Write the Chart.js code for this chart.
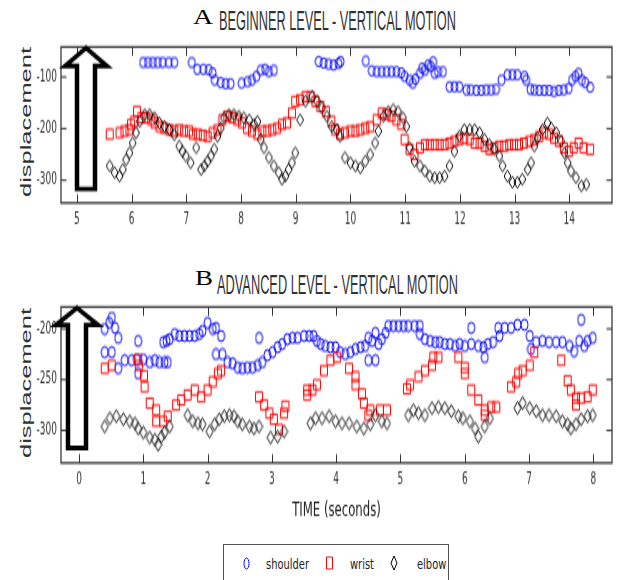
<!DOCTYPE html>
<html><head><meta charset="utf-8">
<script src="https://cdn.jsdelivr.net/npm/chart.js@4.4.1/dist/chart.umd.min.js"></script>
<style>
html,body{margin:0;padding:0;background:#fff;}
#wrap{position:relative;width:617px;height:580px;overflow:hidden;font-family:"DejaVu Sans Condensed","Liberation Sans Narrow","Liberation Sans",sans-serif;}
.tl{position:absolute;white-space:nowrap;line-height:1;transform-origin:left top;}
.L{font-family:"Liberation Serif","DejaVu Serif",serif;font-size:20px;color:#000;}
.T{font-family:"Liberation Sans",Arial,sans-serif;font-size:27px;color:#333;}
.ylab{position:absolute;width:200px;height:20px;line-height:20px;text-align:center;font-family:"Liberation Sans",Arial,sans-serif;font-size:15px;color:#333;white-space:nowrap;}
.ylab span{display:inline-block;}
canvas{position:absolute;left:0;}
#legend{position:absolute;left:223px;top:544px;width:226px;height:50px;border:1px solid #555;box-sizing:border-box;}
.li{position:absolute;font-size:11px;color:#222;line-height:12px;top:557px;transform:scaleY(1.35);transform-origin:left top;white-space:nowrap;}
</style></head>
<body>
<div id="wrap">
  <div class="tl L" data-sx="1.39" style="left:193px;top:6.5px;">A</div>
  <div class="tl T" data-w="237" style="left:219px;top:7.5px;">BEGINNER LEVEL - VERTICAL MOTION</div>
  <div class="tl L" data-sx="1.35" style="left:195px;top:267.5px;">B</div>
  <div class="tl T" data-w="241" style="left:217px;top:271.5px;">ADVANCED LEVEL - VERTICAL MOTION</div>
  <div class="ylab" style="left:-74px;top:112px;"><span data-w="150">displacement</span></div>
  <div class="ylab" style="left:-74px;top:373px;"><span data-w="150">displacement</span></div>
  <canvas id="cA" width="617" height="150" style="top:0;width:617px;height:240px"></canvas>
  <canvas id="cB" width="617" height="175" style="top:260px;width:617px;height:280px"></canvas>
  <div id="legend"></div>
  <canvas id="m1" width="7" height="13" style="left:243px;top:557px"></canvas>
  <div class="li" style="left:266px;">shoulder</div>
  <canvas id="m2" width="9" height="14" style="left:325px;top:556px"></canvas>
  <div class="li" style="left:350px;">wrist</div>
  <canvas id="m3" width="8" height="16" style="left:390px;top:555px"></canvas>
  <div class="li" style="left:417px;">elbow</div>
</div>
<script>
// ---------- DATA ----------
const xTicksA = [5,6,7,8,9,10,11,12,13,14];
const yTicksA = [-100,-200,-300];
const xTicksB = [0,1,2,3,4,5,6,7,8];
const yTicksB = [-200,-250,-300];

// Chart A (beginner)
const shoulderA_t = [6.21,6.30,6.39,6.48,6.57,6.68,6.78, 7.10,7.20,7.31,7.41,7.48,7.52,7.63,7.72,7.81, 8.01,8.12,8.20,8.28,8.36,8.44,8.51,8.60, 9.42,9.51,9.60,9.69,9.78,9.82,
 10.28,10.39,10.48,10.57,10.66,10.75,10.84,10.93,10.99,11.08,11.14,11.19,11.27,11.31,11.36,11.42,11.47,11.51,11.54,11.60,11.69,
 11.81,11.90,11.99,12.12,12.20,12.30,12.39,12.48,12.57,12.66,12.76,12.87,12.96,13.05,13.18,13.21,13.29,13.36,13.45,13.54,13.63,13.72,13.81,13.90,13.99,14.05,14.11,14.17,14.23,14.29,14.38];
const shoulderA_y = [-72,-72,-72,-72,-72,-72,-72, -72,-85,-85,-86,-92,-106,-111,-113,-113, -112,-109,-106,-99,-87,-85,-90,-87, -70,-73,-75,-77,-74,-70,
 -69,-88,-90,-90,-90,-90,-90,-92,-99,-106,-112,-104,-93,-83,-87,-77,-80,-71,-93,-90,-90,
 -119,-119,-119,-125,-125,-126,-126,-125,-125,-124,-106,-96,-96,-96,-99,-106,-124,-125,-126,-126,-126,-128,-126,-125,-122,-106,-99,-93,-106,-111,-120];

const wristA_t = [5.60,5.78,5.87,5.96,5.99,6.05,6.10,6.18,6.27,6.36, 6.42,6.51,6.60,6.69,6.78,6.87,6.96,7.05,7.12,7.21,
 7.30,7.39,7.48,7.57,7.66,7.75,7.84,7.93,8.02,8.11, 8.20,8.30,8.39,8.48,8.57,8.66,8.75,8.84,8.93,8.99,
 9.08,9.18,9.27,9.36,9.45,9.55,9.65,9.72,9.81,9.90, 10.00,10.09,10.18,10.27,10.36,10.48,10.57,10.66,10.75,10.84,
 10.93,10.99,11.08,11.17,11.27,11.36,11.45,11.54,11.63,11.72, 11.81,11.90,11.99,12.08,12.18,12.27,12.36,12.45,12.54,12.63,
 12.72,12.81,12.90,12.99,13.08,13.17,13.27,13.36,13.45,13.54, 13.63,13.72,13.81,13.90,13.99,14.08,14.17,14.26,14.38];
const wristA_y = [-211,-208,-205,-202,-192,-186,-167,-179,-179,-183, -189,-196,-199,-202,-205,-202,-205,-205,-211,-211,
 -213,-215,-208,-202,-183,-176,-179,-183,-189,-199, -205,-211,-205,-205,-202,-199,-192,-189,-170,-147,
 -144,-138,-138,-147,-157,-167,-186,-202,-211,-208, -205,-205,-202,-199,-196,-183,-170,-173,-176,-183,
 -192,-221,-240,-250,-237,-231,-231,-231,-231,-231, -228,-224,-221,-218,-221,-228,-228,-234,-240,-237,
 -234,-234,-231,-231,-231,-228,-224,-221,-215,-208, -211,-218,-224,-237,-244,-237,-228,-237,-240];

const elbowA_t = [5.60,5.69,5.78,5.84,5.90,5.96,6.02,6.08,6.15,6.24, 6.33,6.42,6.51,6.60,6.69,6.78,6.87,6.93,6.99,7.08,
 7.18,7.27,7.33,7.39,7.45,7.51,7.57,7.63,7.69,7.78, 7.87,7.96,8.05,8.15,8.24,8.30,8.36,8.42,8.51,8.60,
 8.69,8.75,8.81,8.87,8.93,8.99,9.08,9.18,9.30,9.39, 9.48,9.57,9.66,9.75,9.81,9.90,10.00,10.09,10.18,10.27,
 10.36,10.45,10.51,10.60,10.69,10.78,10.87,10.96,11.02,11.08, 11.17,11.27,11.36,11.45,11.54,11.63,11.72,11.81,11.90,11.99,
 12.08,12.18,12.27,12.36,12.45,12.54,12.63,12.72,12.78,12.87, 12.96,13.05,13.14,13.24,13.30,13.36,13.42,13.51,13.60,13.67,
 13.76,13.85,13.91,13.97,14.03,14.12,14.22,14.31];
const elbowA_y = [-272,-285,-292,-279,-260,-247,-228,-208,-186,-173, -173,-179,-189,-196,-202,-212,-234,-244,-253,-266,
 -237,-279,-272,-263,-253,-240,-215,-199,-179,-173, -173,-176,-179,-183,-192,-186,-221,-237,-256,-272,
 -285,-298,-292,-279,-266,-247,-183,-147,-138,-147, -160,-176,-196,-202,-215,-256,-266,-272,-276,-263,
 -250,-228,-205,-176,-167,-163,-167,-179,-196,-237, -263,-272,-282,-292,-295,-295,-292,-272,-244,-215,
 -202,-202,-202,-208,-221,-231,-240,-253,-272,-292, -304,-304,-298,-279,-266,-234,-218,-202,-189,-199,
 -208,-224,-247,-266,-282,-295,-311,-308];

// Chart B (advanced)
const shoulderB_t = [0.40,0.47,0.51,0.56,0.61, 0.40,0.51,0.61,0.71,0.82, 0.90,0.92,0.92,1.00,1.10,1.18,1.25,1.33,1.38,
 1.31,1.36,1.41,1.49,1.56,1.64,1.72,1.80,1.87,1.92,2.00,2.08,2.13,2.21,
 2.13,2.23,2.31,2.39,2.47,2.54,2.62,2.70,2.78,2.80,2.85,2.93,3.01,3.09,3.16,3.24,3.32,3.40,
 3.50,3.58,3.65,3.70,3.76,3.83,3.91,3.99,4.06,4.14, 4.22,4.30,4.38,4.45,4.50,4.56,4.61,4.50,4.61,4.66,
 4.71,4.77,4.81,4.89,4.97,5.05,5.12,5.22,5.30,5.30, 5.38,5.46,5.54,5.61,5.69,5.77,5.85,5.92,6.00,6.10,
 6.10,6.21,6.29,6.31,6.36,6.44,6.52,6.54,6.62,6.72, 6.82,6.93,7.01,7.03,7.11,7.21,7.31,7.42,7.52,7.63,
 7.70,7.78,7.81,7.86,7.91,7.99];
const shoulderB_y = [-200,-194,-189,-199,-209, -223,-223,-239,-231,-231, -230,-212,-244,-230,-233,-231,-233,-233,-233,
 -213,-212,-210,-205,-207,-207,-207,-207,-205,-202,-194,-200,-199,-207,
 -225,-225,-233,-234,-238,-239,-238,-238,-236,-209,-233,-226,-223,-218,-215,-210,-209,-209,
 -207,-207,-207,-212,-215,-217,-218,-218,-223,-225, -223,-220,-218,-217,-209,-212,-204,-231,-231,-215,
 -210,-204,-197,-197,-197,-197,-197,-197,-197,-205, -210,-212,-213,-213,-215,-215,-217,-215,-217,-199,
 -215,-217,-218,-228,-215,-213,-199,-207,-199,-199, -196,-196,-207,-220,-213,-212,-213,-213,-213,-217,
 -222,-212,-191,-217,-212,-209];

const wristB_t = [0.40,0.51,0.92,0.93,1.01,1.02,1.10,1.20,1.20,1.31, 1.38,1.51,1.59,1.69,1.80,1.90,2.00,2.08,2.16,2.21,
 2.80,2.88,2.96,3.03,3.11,3.19,3.21, 3.55,3.55,3.63,
 3.70,3.81,3.91,4.01,4.20,4.30,4.30,4.40,4.43,4.50, 4.53,4.68,4.79,5.10,5.15,5.28,5.38,5.49,5.51,5.59,
 5.90,6.00,6.00,6.10,6.21,6.31,6.31,6.41,6.49,6.72, 6.80,6.83,6.90,7.01,7.08,7.50,7.60,7.65,7.73,7.73,
 7.81,7.91,7.99];
const wristB_y = [-239,-236,-230,-236,-246,-257,-273,-280,-291,-291, -286,-275,-270,-265,-260,-267,-260,-252,-244,-241,
 -267,-275,-283,-289,-299,-283,-276, -260,-265,-260,
 -255,-241,-231,-228,-239,-247,-255,-264,-273,-285, -280,-280,-280,-259,-255,-247,-241,-236,-228,-228,
 -228,-238,-244,-260,-270,-280,-285,-277,-277,-257, -252,-244,-241,-236,-223,-231,-251,-260,-268,-275,
 -268,-267,-260];

const elbowB_t = [0.40,0.48,0.58,0.69,0.79,0.87,0.92,1.00,1.10,1.18, 1.23,1.28,1.33,1.41,
 1.69,1.77,1.85,1.92,2.03,2.11, 2.18,2.26,2.34,2.41,2.47,2.54,2.65,2.72,2.80,
 2.98,3.09,3.19, 3.60,3.68,3.78,3.89,3.99,4.09,4.20,4.32, 4.43,4.53,4.61,4.71,4.79,
 5.12,5.20,5.28,5.38,5.49,5.59,5.69,5.79,5.90,5.97, 6.08,6.16,6.21,6.31,6.39,
 6.82,6.90,7.01,7.11,7.21,7.31,7.42,7.52,7.60,7.65, 7.73,7.81,7.91,7.99];
const elbowB_y = [-296,-288,-286,-289,-291,-293,-298,-302,-307,-309, -314,-306,-302,-296,
 -285,-291,-293,-294,-301,-294, -289,-286,-285,-286,-291,-294,-296,-298,-296,
 -307,-306,-301, -293,-288,-288,-286,-291,-293,-293,-296, -298,-294,-285,-291,-293,
 -285,-280,-283,-285,-278,-277,-278,-281,-286,-288, -291,-298,-306,-296,-288,
 -278,-273,-278,-281,-285,-285,-286,-291,-294,-298, -294,-289,-286,-285];

// ---------- HELPERS ----------
const S = 1.6; // canvases are drawn short and shown stretched vertically, like the original figure
const FONT = '"DejaVu Sans Condensed","Liberation Sans Narrow","Liberation Sans",sans-serif';
const pts = (t, y) => t.map((v, i) => ({x: v, y: y[i]}));

function marker(shape, w, h, color, cnv) {
  const c = cnv || document.createElement('canvas');
  const H = Math.ceil(h) + 2;
  c.width = w + 2; c.height = H;
  const g = c.getContext('2d');
  g.strokeStyle = color; g.lineWidth = 1;
  const cx = (w + 2) / 2, cy = H / 2;
  g.beginPath();
  if (shape === 'ellipse') g.ellipse(cx, cy, w / 2, h / 2, 0, 0, Math.PI * 2);
  else if (shape === 'rect') g.rect(cx - w / 2 + 0.5, cy - h / 2, w - 1, h);
  else { g.moveTo(cx, cy - h / 2); g.lineTo(cx + w / 2, cy); g.lineTo(cx, cy + h / 2); g.lineTo(cx - w / 2, cy); g.closePath(); }
  g.stroke();
  return c;
}

const framePlugin = {
  id: 'frame',
  afterDatasetsDraw(chart, args, o) {
    const {ctx, chartArea: a, scales: {x, y}} = chart;
    ctx.save();
    ctx.strokeStyle = '#333'; ctx.lineWidth = 1;
    ctx.beginPath();
    x.ticks.forEach(t => { const p = Math.round(x.getPixelForValue(t.value)) + 0.5;
      ctx.moveTo(p, a.top); ctx.lineTo(p, a.top + 5.5); ctx.moveTo(p, a.bottom); ctx.lineTo(p, a.bottom - 5.5); });
    y.ticks.forEach(t => { const p = y.getPixelForValue(t.value);
      ctx.moveTo(a.left, p); ctx.lineTo(a.left + 5.5, p); ctx.moveTo(a.right, p); ctx.lineTo(a.right - 5.5, p); });
    ctx.stroke();
    ctx.lineWidth = 1.3; ctx.strokeStyle = '#3a3a3a';
    ctx.strokeRect(a.left, a.top, a.right - a.left, a.bottom - a.top);
    // hollow arrow annotation, drawn undistorted
    ctx.scale(1, 1 / S);
    const top = a.top * S, bot = a.bottom * S;
    const cx = a.left + o.arrowX, tipY = top + 1, baseY = top + o.headDy, botY = bot - o.bottomDy;
    const hw = 21, sw = 9;
    ctx.beginPath();
    ctx.moveTo(cx, tipY); ctx.lineTo(cx + hw, baseY); ctx.lineTo(cx + sw, baseY); ctx.lineTo(cx + sw, botY);
    ctx.lineTo(cx - sw, botY); ctx.lineTo(cx - sw, baseY); ctx.lineTo(cx - hw, baseY); ctx.closePath();
    ctx.fillStyle = '#fff'; ctx.fill();
    ctx.lineWidth = 4.5; ctx.strokeStyle = '#000'; ctx.lineJoin = 'miter'; ctx.stroke();
    ctx.restore();
  }
};

function axis(min, max, ticksArr, isX, pad, size, title) {
  const o = {
    type: 'linear', min, max,
    afterBuildTicks: s => { s.ticks = ticksArr.map(v => ({value: v})); },
    ticks: {padding: pad, color: '#333', font: {family: FONT, size: 10}, callback: v => String(v), maxRotation: 0, autoSkip: false},
    grid: {display: false, drawTicks: false},
    border: {display: false},
    afterFit: s => { if (isX) s.height = size; else s.width = size; }
  };
  if (title) o.title = {display: true, text: title, color: '#222', font: {family: FONT, size: 13}, padding: {top: 0, bottom: 2.2}};
  return o;
}

function makeChart(id, sets, xr, yr, xt, yt, pad, xh, xtitle, arrow, mk) {
  new Chart(document.getElementById(id), {
    type: 'scatter',
    data: {datasets: [
      {label: 'shoulder', data: pts(sets[0], sets[1]), pointStyle: marker('ellipse', mk[0][0], mk[0][1] / S, '#0000ff'), order: 2, pointRadius: 4},
      {label: 'wrist', data: pts(sets[2], sets[3]), pointStyle: marker('rect', mk[1][0], mk[1][1] / S, '#ff0000'), order: 1, pointRadius: 4},
      {label: 'elbow', data: pts(sets[4], sets[5]), pointStyle: marker('diamond', mk[2][0], mk[2][1] / S, '#000000'), order: 0, pointRadius: 4}
    ]},
    options: {
      responsive: false, animation: false, devicePixelRatio: 1,
      layout: {padding: pad},
      scales: {x: axis(xr[0], xr[1], xt, true, 4.8, xh, xtitle), y: axis(yr[0], yr[1], yt, false, 4, 45)},
      plugins: {legend: {display: false}, tooltip: {enabled: false}, frame: arrow}
    },
    plugins: [framePlugin]
  });
}

makeChart('cA', [shoulderA_t, shoulderA_y, wristA_t, wristA_y, elbowA_t, elbowA_y],
  [4.71, 14.78], [-344, -42], xTicksA, yTicksA, {left: 16, right: 2, top: 47 / S, bottom: 150 - 203 / S - 20}, 20, null,
  {arrowX: 25, headDy: 19, bottomDy: 14}, [[7, 10], [8, 10], [7, 12]]);

makeChart('cB', [shoulderB_t, shoulderB_y, wristB_t, wristB_y, elbowB_t, elbowB_y],
  [-0.28, 8.29], [-332, -178.5], xTicksB, yTicksB, {left: 16, right: 2, top: 47 / S, bottom: 175 - 203 / S - 40}, 40, 'TIME (seconds)',
  {arrowX: 16, headDy: 18, bottomDy: 15}, [[7, 11], [8, 10], [7, 13]]);

// legend markers
marker('ellipse', 5, 11, '#0000ff', document.getElementById('m1'));
marker('rect', 7, 12, '#ff0000', document.getElementById('m2'));
marker('diamond', 6, 14, '#000000', document.getElementById('m3'));

// fit title / label text to the reference proportions
document.querySelectorAll('.tl.T').forEach(el => {
  const w = el.getBoundingClientRect().width; el.style.transform = 'scaleX(' + (+el.dataset.w / w) + ')';
});
document.querySelectorAll('.tl.L').forEach(el => { el.style.transform = 'scaleX(' + el.dataset.sx + ')'; });
document.querySelectorAll('.ylab').forEach(d => {
  const s = d.querySelector('span'); const w = s.getBoundingClientRect().width;
  d.style.transform = 'rotate(-90deg) scaleX(' + (+s.dataset.w / w) + ')';
});
</script>
</body></html>
